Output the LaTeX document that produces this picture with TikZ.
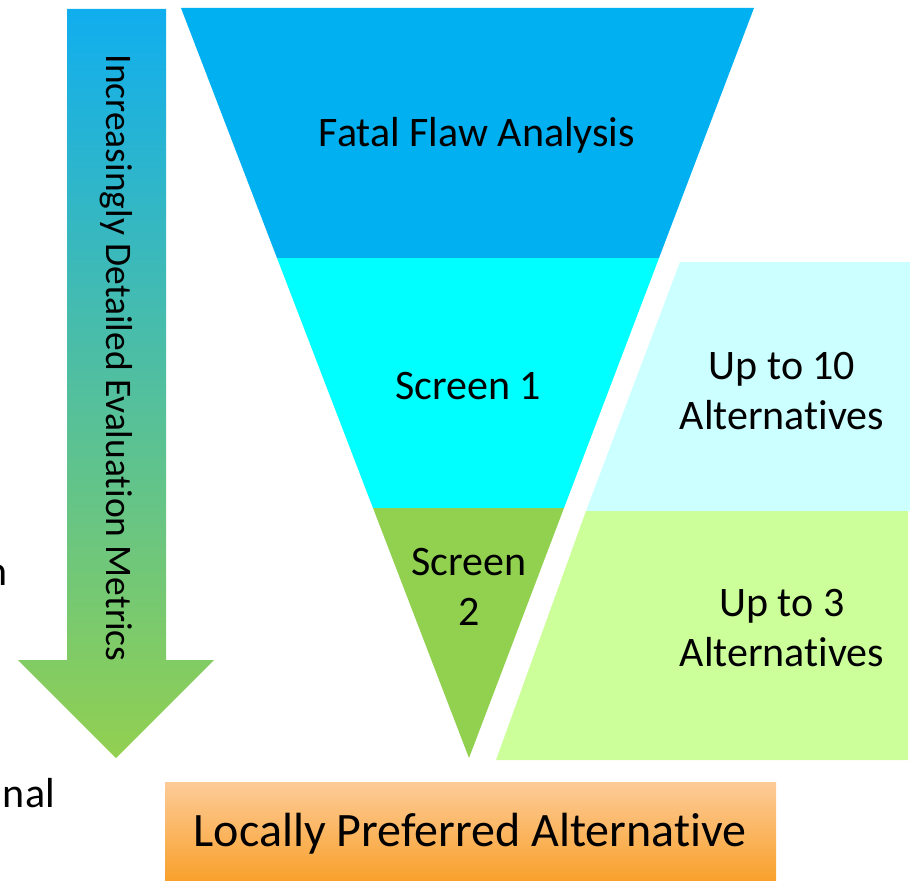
\documentclass[tikz,border=0pt]{standalone}
\usepackage{fontspec}
\setmainfont{Carlito}[Ligatures=NoCommon]
\definecolor{flawblue}{HTML}{00B0F0}
\definecolor{scrcyan}{HTML}{00FFFF}
\definecolor{scrgreen}{HTML}{92D050}
\definecolor{alt10}{HTML}{CCFFFF}
\definecolor{alt3}{HTML}{CCFF99}
\definecolor{arrtop}{HTML}{10AEEF}
\definecolor{arrbot}{HTML}{92D050}
\definecolor{lpatop}{HTML}{FDCB98}
\definecolor{lpabot}{HTML}{F9A12C}
\tikzset{
  lbl/.style={font=\fontsize{42}{50}\selectfont, align=center, text=black, inner sep=0pt},
  biglbl/.style={font=\fontsize{48}{56}\selectfont, align=center, text=black, inner sep=0pt},
  arrlbl/.style={font=\fontsize{37.5}{44}\selectfont, text=black, inner sep=0pt, rotate=-90}
}
\begin{document}
\begin{tikzpicture}[x=1pt,y=-1pt]
\useasboundingbox (0,0) rectangle (910,883);
% funnel bands
\fill[flawblue] (181,8) -- (754,8) -- (659,258) -- (277,258) -- cycle;
\fill[scrcyan] (277,258) -- (659,258) -- (564,508) -- (373,508) -- cycle;
\fill[scrgreen] (373,508) -- (564,508) -- (469,758) -- cycle;
% right panels
\fill[alt10] (680,262) -- (910,262) -- (910,511) -- (586,511) -- cycle;
\fill[alt3] (586,511) -- (908,511) -- (908,760) -- (496,760) -- cycle;
% arrow
\shade[top color=arrtop, bottom color=arrbot]
  (67,9) -- (166,9) -- (166,660) -- (214,660) -- (116,758) -- (18,660) -- (67,660) -- cycle;
% bottom box
\shade[top color=lpatop, bottom color=lpabot] (165,782) rectangle (776,880);
% texts
\node[lbl] (ffa) at (477,135) {Fatal Flaw Analysis};
\node[lbl] (s1) at (468,386) {Screen 1};
\node[lbl] (s2) at (469,587) {Screen\\2};
\node[lbl] (u10) at (782,391) {Up to 10\\Alternatives};
\node[lbl] (u3) at (782,628) {Up to 3\\Alternatives};
\node[arrlbl] (metrics) at (116,358) {Increasingly Detailed Evaluation Metrics};
\node[biglbl] (lpa) at (470,834) {Locally Preferred Alternative};
\node[lbl, anchor=base east] (frag1) at (8,585) {n};
\node[lbl, anchor=base east] (frag2) at (55,807) {nal};
\end{tikzpicture}
\end{document}
